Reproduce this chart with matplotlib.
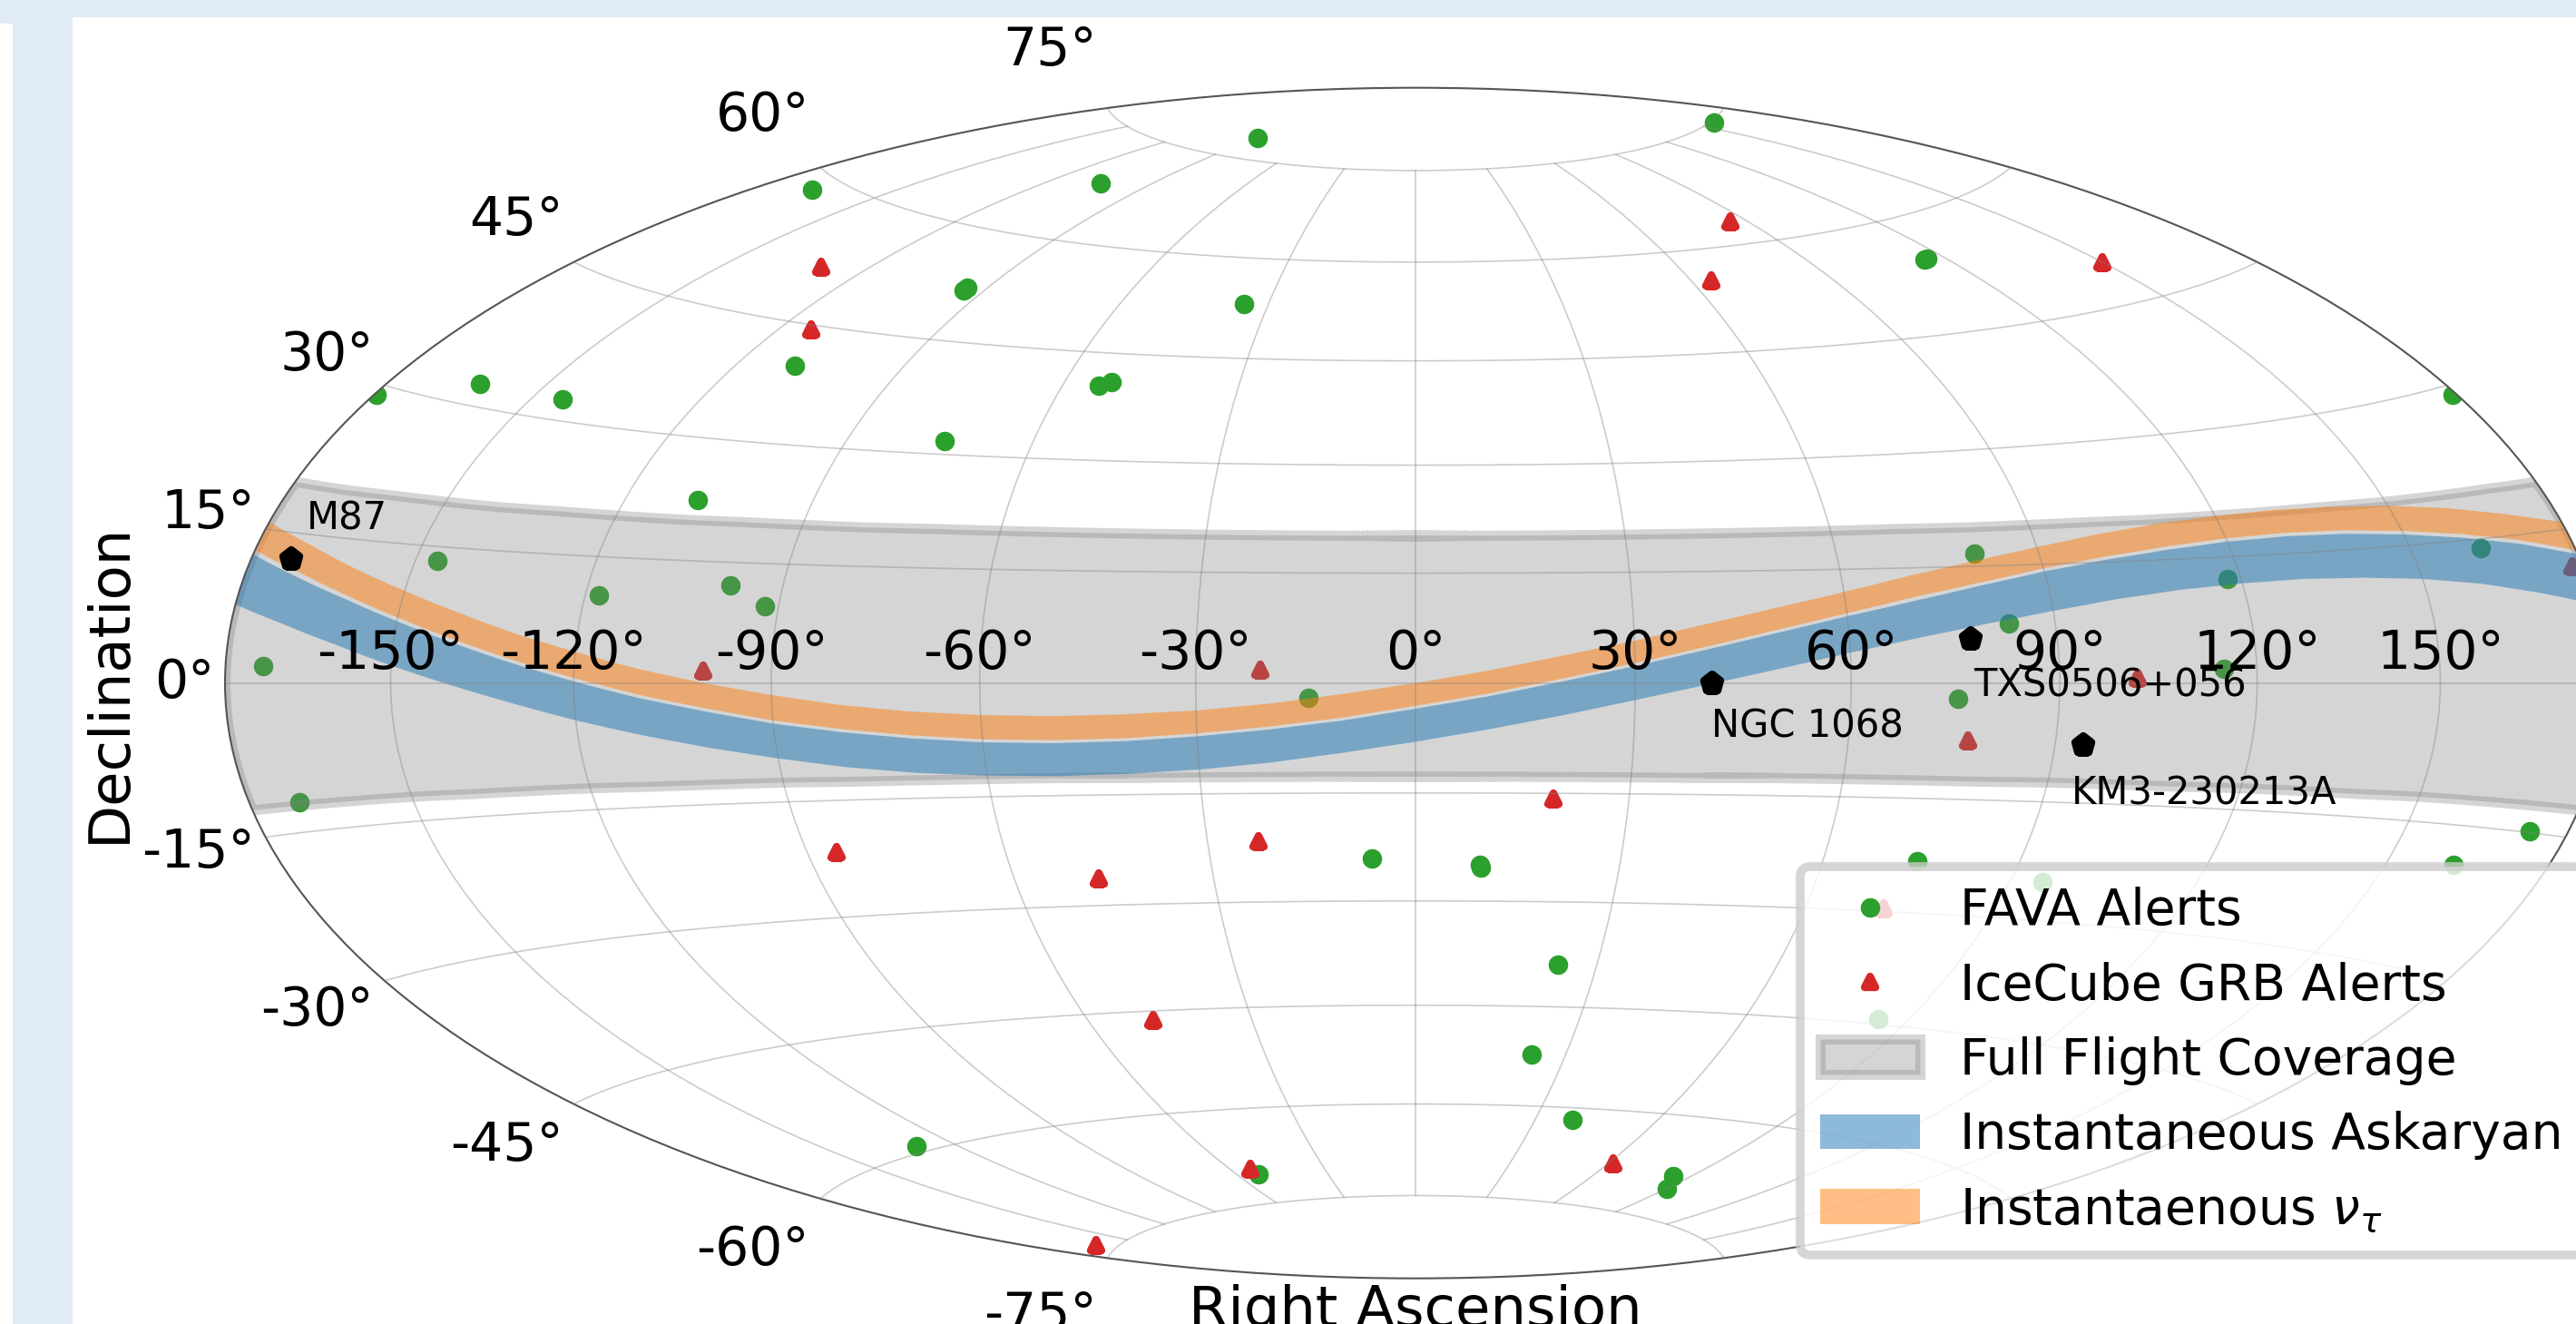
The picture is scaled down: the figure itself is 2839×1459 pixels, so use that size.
# Sky map: FAVA + IceCube alerts with flight coverage bands
import numpy as np
import matplotlib
matplotlib.use("Agg")
import matplotlib.pyplot as plt
from matplotlib.markers import MarkerStyle
from matplotlib.patches import Rectangle
from matplotlib.transforms import Affine2D

W, H = 2839, 1459

# values (degrees)
fava_lon = [-89.4,-104.8,-167.8,-94.1,-94.1,-34.9,-109.3,-162.4,-144.2,-179.5,-53.9,-52.0,-74.1,-108.1,-146.2,-117.8,-97.9,-92.0,
            -172.9,-170.4,-129.3,-52.9,157.7,115.3,116.0,179.3,80.3,117.9,162.5,83.2,-14.6,75.3,114.8,172.7,162.1,74.3,95.1,84.5,
            -6.4,9.4,9.6,23.6,23.2,39.3,84.6,90.5]
fava_lat = [78.4,68.3,58.4,52.2,51.8,53.0,39.8,32.3,32.3,29.0,40.4,40.9,31.8,22.4,13.4,10.4,12.2,9.6,
            1.7,-12.0,-59.2,-70.3,74.8,54.6,54.6,29.1,16.6,12.4,14.1,7.6,-2.0,-2.0,1.7,-14.9,-19.1,-23.2,-25.1,-44.3,
            -24.0,-24.9,-25.3,-38.9,-52.2,-61.8,-68.8,-70.7]

grb_lon = [-130.0,-113.7,-100.2,-21.1,-85.5,-47.2,-22.6,-48.1,-53.6,-164.5,85.8,64.4,149.9,177.9,101.6,77.2,19.4,61.5,72.4]
grb_lat = [51.8,44.4,1.5,1.8,-21.6,-26.3,-21.6,-46.3,-69.3,-74.0,63.4,55.4,49.8,11.4,0.6,-7.4,-15.7,-68.1,-29.6]

source_names = ["M87", "NGC 1068", "TXS0506+056", "KM3-230213A"]
source_lon = [-172.3, 40.6, 77.3, 94.2]
source_lat = [12.4, 0.0, 5.7, -7.7]
source_offset = [(16, 33), (-1, -60), (3, -64), (-13, -66)]  # label offset, pixels

# band edges every 10 deg of RA from -180 to 180
band_lon = list(range(-180, 181, 10))
coverage_top = [19.8,19.8,19.9,19.9,19.9,20.0,20.0,20.0,20.1,20.1,20.1,20.2,20.2,20.2,20.2,20.2,20.2,20.2,20.2,
                20.2,20.2,20.2,20.2,20.2,20.2,20.2,20.1,20.1,20.1,20.0,20.0,20.0,20.0,19.9,19.9,19.9,19.8]
coverage_bot = [-12.3,-12.3,-12.3,-12.3,-12.4,-12.4,-12.4,-12.5,-12.5,-12.5,-12.6,-12.6,-12.6,-12.6,-12.7,-12.7,-12.7,-12.7,-12.7,
                -12.7,-12.7,-12.7,-12.7,-12.6,-12.6,-12.6,-12.6,-12.5,-12.5,-12.5,-12.4,-12.4,-12.4,-12.3,-12.3,-12.3,-12.3]
tau_top = [15.7,14.0,12.0,10.0,7.9,5.7,3.7,1.7,0.0,-1.5,-2.8,-3.7,-4.2,-4.4,-4.2,-3.7,-2.8,-1.5,0.0,
           1.7,3.7,5.7,7.9,10.0,12.0,14.0,15.7,17.2,18.5,19.4,19.9,20.1,19.9,19.4,18.5,17.2,15.7]
tau_bot = [12.9,11.2,9.2,7.1,4.9,2.7,0.6,-1.4,-3.1,-4.7,-5.9,-6.8,-7.4,-7.6,-7.4,-6.8,-5.9,-4.7,-3.1,
           -1.4,0.6,2.7,4.9,7.1,9.2,11.2,12.9,14.5,15.7,16.6,17.2,17.4,17.2,16.6,15.7,14.5,12.9]
ask_top = [12.5,10.7,8.8,6.7,4.5,2.3,0.2,-1.8,-3.5,-5.1,-6.3,-7.2,-7.8,-8.0,-7.8,-7.2,-6.3,-5.1,-3.5,
           -1.8,0.2,2.3,4.5,6.7,8.8,10.7,12.5,14.1,15.3,16.2,16.8,17.0,16.8,16.2,15.3,14.1,12.5]
ask_bot = [7.6,5.9,4.0,1.9,-0.2,-2.3,-4.4,-6.3,-8.0,-9.5,-10.8,-11.7,-12.2,-12.4,-12.2,-11.7,-10.8,-9.5,-8.0,
           -6.3,-4.4,-2.3,-0.2,1.9,4.0,5.9,7.6,9.1,10.4,11.3,11.8,12.0,11.8,11.3,10.4,9.1,7.6]

fig = plt.figure(figsize=(W / 100, H / 100), dpi=100, facecolor="#e0ebf5")

# white slide panels behind the figure
fig.add_artist(Rectangle((80 / W, 0), 1, 1 - 19 / H, transform=fig.transFigure, fc="white", ec="none", zorder=-1))
fig.add_artist(Rectangle((0, 0), 14 / W, 1 - 26 / H, transform=fig.transFigure, fc="white", ec="none", zorder=-1))

ax = fig.add_axes([248 / W, 1 - 1409 / H, 2624 / W, 1312.6 / H], projection="hammer")
ax.set_facecolor("none")
ax.set_axisbelow(False)
ax.grid(True, color="gray", alpha=0.4, lw=1.2)
ax.tick_params(labelsize=42)
for s in ax.spines.values():
    s.set_edgecolor("#555555")
    s.set_linewidth(1.5)

# y labels sit a bit further from the rim than the default
for lab in ax.get_yticklabels():
    lab.set_transform(lab.get_transform() + Affine2D().translate(-4, 0))

tri = MarkerStyle("^", joinstyle="round")
pent = MarkerStyle("p", joinstyle="round")

ax.plot(np.radians(fava_lon), np.radians(fava_lat), ls="none", marker="o", ms=15.5, mew=0, color="tab:green",
        zorder=0.5, label="FAVA Alerts")
ax.plot(np.radians(grb_lon), np.radians(grb_lat), ls="none", marker=tri, ms=9, mew=6, color="tab:red",
        zorder=0.6, label="IceCube GRB Alerts")

lon = np.radians(band_lon)
ax.fill_between(lon, np.radians(coverage_bot), np.radians(coverage_top), facecolor="gray", edgecolor="gray",
                alpha=0.33, lw=8, zorder=1, label="Full Flight Coverage")
ax.fill_between(lon, np.radians(ask_bot), np.radians(ask_top), facecolor="tab:blue", alpha=0.5, lw=0, zorder=1.1,
                label="Instantaneous Askaryan")
ax.fill_between(lon, np.radians(tau_bot), np.radians(tau_top), facecolor="tab:orange", alpha=0.5, lw=0, zorder=1.1,
                label=r"Instantaenous $\nu_\tau$")

ax.plot(np.radians(source_lon), np.radians(source_lat), ls="none", marker=pent, ms=14, mew=6, color="black", zorder=3)
for name, a, b, off in zip(source_names, source_lon, source_lat, source_offset):
    ax.annotate(name, (np.radians(a), np.radians(b)), xytext=off, textcoords="offset pixels",
                fontsize=30, va="baseline", ha="left", zorder=3.5)

ax.set_xlabel("Right Ascension", fontsize=45)
ax.set_ylabel("Declination", fontsize=45)
ax.xaxis.set_label_coords(0.5, -0.005)
ax.yaxis.set_label_coords(-0.037, 0.5)

leg = ax.legend(loc="upper left", bbox_to_anchor=(1984 / W, 1 - 955 / H), bbox_transform=fig.transFigure,
                borderaxespad=0, fontsize=39.7, numpoints=1, labelspacing=0.515)
leg.get_frame().set_linewidth(7)
leg.set_zorder(5)

fig.savefig("out.png", dpi=100, facecolor=fig.get_facecolor())
